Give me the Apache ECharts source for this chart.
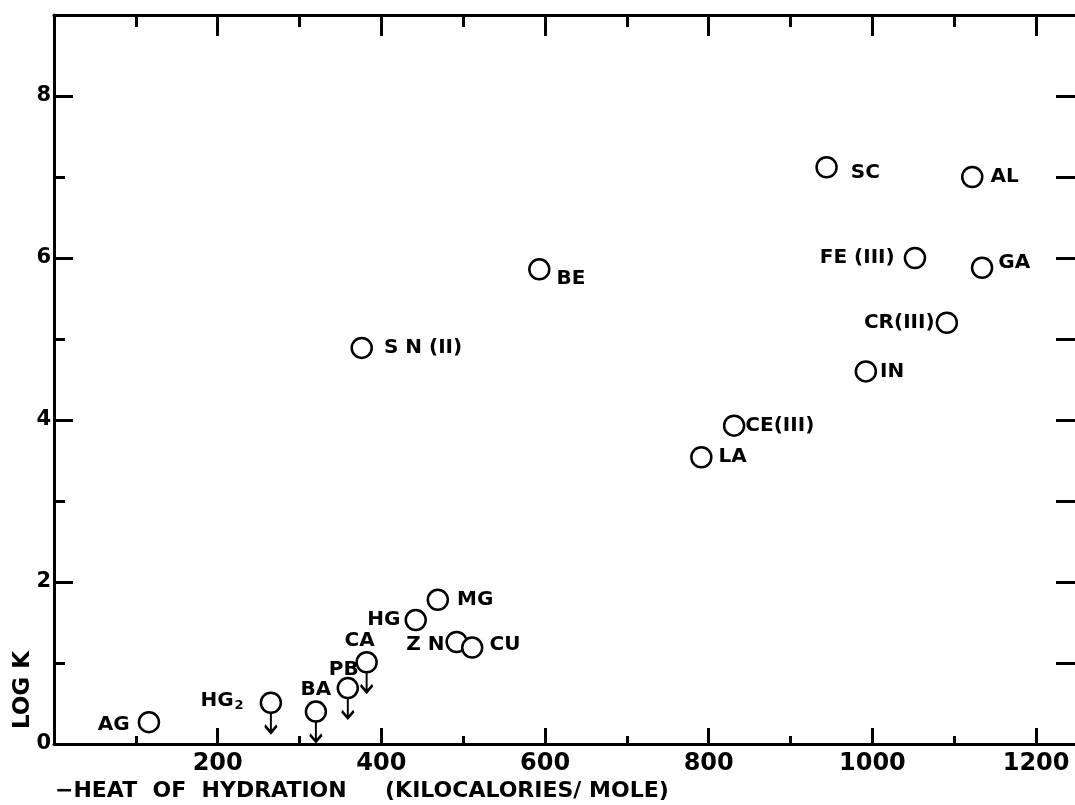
<!DOCTYPE html>
<html>
<head>
<meta charset="utf-8">
<title>Log K vs heat of hydration</title>
<script src="https://cdn.jsdelivr.net/npm/echarts@6/dist/echarts.min.js"></script>
<style>
  html, body { margin: 0; padding: 0; background: #fff; }
  #chart { width: 1075px; height: 805px; }
</style>
</head>
<body>
<div id="chart"></div>
<script>
// 数据：每个离子的水合热和 log K
const ions = ['AG', 'HG2', 'BA', 'PB', 'CA', 'HG', 'MG', 'ZN', 'CU', 'SN(II)', 'BE', 'LA', 'CE(III)', 'IN', 'SC', 'FE(III)', 'CR(III)', 'AL', 'GA'];
const ionLabels = ['AG', 'HG{sub|2}', 'BA', 'PB', 'CA', 'HG', 'MG', 'Z N', 'CU', 'S N (II)', 'BE', 'LA', 'CE(III)', 'IN', 'SC', 'FE (III)', 'CR(III)', 'AL', 'GA'];
const heat = [116, 265, 320, 359, 382, 442, 469, 492, 511, 376, 593, 791, 831, 992, 944, 1052, 1091, 1122, 1134];
const logK = [0.27, 0.51, 0.40, 0.69, 1.01, 1.53, 1.78, 1.26, 1.19, 4.89, 5.86, 3.54, 3.93, 4.60, 7.12, 6.00, 5.20, 7.00, 5.88];
// 只给出上限的点（画向下箭头）
const upperLimit = ['HG2', 'BA', 'PB', 'CA'];
const xTicks = [200, 400, 600, 800, 1000, 1200];
const yTicks = [0, 2, 4, 6, 8];

// 标签摆放（样式）
const labelPlace = {
    'AG': { position: 'left', distance: 8, offset: [0, 3] },
    'HG2': { position: 'left', distance: 16, offset: [0, -2] },
    'BA': { position: 'top', distance: 1 },
    'PB': { position: 'top', distance: -3, offset: [-4, 0] },
    'CA': { position: 'top', distance: 0, offset: [-7, 0] },
    'HG': { position: 'left', distance: 4 },
    'MG': { position: 'right', distance: 8 },
    'ZN': { position: 'left', distance: 1, offset: [0, 3] },
    'CU': { position: 'right', distance: 6, offset: [0, -3] },
    'SN(II)': { position: 'right', distance: 11 },
    'BE': { position: 'right', distance: 6, offset: [0, 9] },
    'LA': { position: 'right', distance: 6 },
    'CE(III)': { position: 'right', distance: 0 },
    'IN': { position: 'right', distance: 3 },
    'SC': { position: 'right', distance: 13, offset: [0, 6] },
    'FE(III)': { position: 'left', distance: 9 },
    'CR(III)': { position: 'left', distance: 1 },
    'AL': { position: 'right', distance: 7 },
    'GA': { position: 'right', distance: 5, offset: [0, -5] }
};

const FONT = 'DejaVu Sans';
const INK = '#000';

const pointData = ions.map((name, i) => ({
    name: name,
    value: [heat[i], logK[i]],
    label: Object.assign({ show: true, formatter: ionLabels[i] }, labelPlace[name])
}));

const arrowData = ions
    .map((name, i) => ({ name: name, value: [heat[i], logK[i]] }))
    .filter(d => upperLimit.indexOf(d.name) >= 0);

const chart = echarts.init(document.getElementById('chart'), null, { renderer: 'canvas' });

const tickShow = (list) => (v) => list.indexOf(v) >= 0 ? String(v) : '';
const line = { onZero: false, lineStyle: { color: INK, width: 3 } };
const tickStyle = { color: INK, width: 3 };

const option = {
    backgroundColor: '#fff',
    animation: false,
    // 右边框在画面外
    grid: { left: 54, top: 15, width: 1023, height: 729, containLabel: false, outerBoundsMode: 'none' },
    xAxis: [
        {
            type: 'value', position: 'bottom', min: 0, max: 1250, interval: 200,
            axisLine: line,
            axisTick: { inside: true, length: 16, lineStyle: tickStyle },
            minorTick: { show: true, splitNumber: 2, length: 8, lineStyle: tickStyle },
            splitLine: { show: false },
            axisLabel: {
                margin: 8, color: INK, fontFamily: FONT, fontWeight: 'bold', fontSize: 24,
                formatter: tickShow(xTicks)
            }
        },
        {
            type: 'value', position: 'top', min: 0, max: 1250, interval: 200,
            axisLine: line,
            axisTick: { inside: true, length: 21, lineStyle: tickStyle },
            minorTick: { show: true, splitNumber: 2, length: 12, lineStyle: tickStyle },
            splitLine: { show: false },
            axisLabel: { show: false }
        }
    ],
    yAxis: [
        {
            type: 'value', position: 'left', min: 0, max: 9, interval: 2,
            axisLine: line,
            axisTick: { inside: true, length: 19, lineStyle: tickStyle },
            minorTick: { show: true, splitNumber: 2, length: 11, lineStyle: tickStyle },
            splitLine: { show: false },
            axisLabel: {
                margin: 3, color: INK, fontFamily: FONT, fontWeight: 'bold', fontSize: 21,
                formatter: tickShow(yTicks)
            }
        },
        {
            type: 'value', position: 'right', min: 0, max: 9, interval: 1,
            axisLine: line,
            axisTick: { inside: true, length: 21, lineStyle: tickStyle },
            splitLine: { show: false },
            axisLabel: { show: false }
        }
    ],
    graphic: [
        {
            type: 'text', left: 55, top: 780,
            style: {
                text: '\u2212HEAT  OF  HYDRATION     (KILOCALORIES/ MOLE)',
                fontFamily: FONT, fontWeight: 'bold', fontSize: 22, fill: INK
            }
        },
        {
            type: 'text', x: 23, y: 690, rotation: Math.PI / 2,
            style: {
                text: 'LOG K', fontFamily: FONT, fontWeight: 'bold', fontSize: 23, fill: INK,
                align: 'center', verticalAlign: 'middle'
            }
        }
    ],
    series: [
        {
            type: 'scatter',
            symbol: 'circle',
            symbolSize: 20,
            itemStyle: { color: '#fff', borderColor: INK, borderWidth: 2.5, opacity: 1 },
            label: {
                color: INK, fontFamily: FONT, fontWeight: 'bold', fontSize: 20,
                rich: { sub: { fontFamily: FONT, fontWeight: 'bold', fontSize: 13, color: INK, verticalAlign: 'bottom', padding: [10, 0, 0, 1] } }
            },
            emphasis: { disabled: true },
            data: pointData,
            z: 3
        },
        {
            type: 'scatter',
            symbol: 'path://M6,0L6,20M1,13L6,20L11,13',
            symbolSize: [12, 20],
            symbolOffset: [0, 20],
            itemStyle: { color: 'none', borderColor: INK, borderWidth: 2.5, opacity: 1 },
            emphasis: { disabled: true },
            data: arrowData,
            z: 2
        }
    ]
};

chart.setOption(option);
</script>
</body>
</html>
